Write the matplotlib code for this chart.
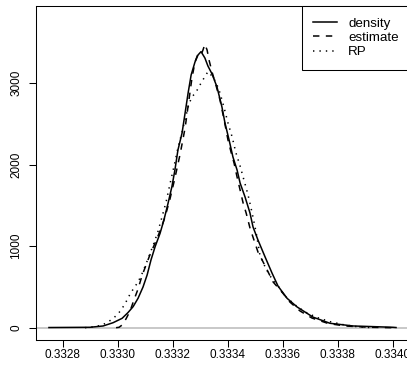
import matplotlib

matplotlib.use("Agg")
import matplotlib.pyplot as plt

plt.rcParams["font.family"] = ["Liberation Sans", "DejaVu Sans"]

# values
density_x = [0.332750, 0.332899, 0.332947, 0.332983, 0.333016, 0.333037, 0.333056,
             0.333074, 0.333092, 0.333107, 0.333121, 0.333136, 0.333154, 0.333168,
             0.333183, 0.333197, 0.333208, 0.333219, 0.333234, 0.333245, 0.333256,
             0.333267, 0.333281, 0.333292, 0.333303, 0.333317, 0.333328, 0.333343,
             0.333361, 0.333379, 0.333390, 0.333405, 0.333419, 0.333434, 0.333445,
             0.333463, 0.333481, 0.333492, 0.333510, 0.333536, 0.333561, 0.333583,
             0.333616, 0.333652, 0.333710, 0.333772, 0.333856, 0.334001, 0.334012]
density_y = [2, 5, 21, 61, 115, 184, 258, 361, 499, 647, 831, 994, 1158, 1321,
             1526, 1730, 1935, 2180, 2389, 2634, 2880, 3101, 3260, 3346, 3387,
             3309, 3211, 3113, 2953, 2708, 2512, 2303, 2094, 1935, 1775, 1604,
             1407, 1236, 1076, 867, 671, 510, 360, 255, 130, 54, 21, 5, 2]

estimate_x = [0.332994, 0.333005, 0.333016, 0.333030, 0.333045, 0.333059, 0.333074,
              0.333088, 0.333103, 0.333117, 0.333136, 0.333154, 0.333172, 0.333190,
              0.333208, 0.333227, 0.333245, 0.333259, 0.333270, 0.333281, 0.333292,
              0.333303, 0.333310, 0.333317, 0.333325, 0.333332, 0.333343, 0.333357,
              0.333372, 0.333387, 0.333401, 0.333412, 0.333423, 0.333434, 0.333445,
              0.333456, 0.333467, 0.333481, 0.333499, 0.333510, 0.333525, 0.333547,
              0.333565, 0.333597, 0.333626, 0.333663, 0.333706, 0.333765, 0.333826,
              0.333917, 0.333997]
estimate_y = [0, 5, 33, 107, 205, 340, 475, 634, 769, 892, 1039, 1187, 1358, 1579,
              1837, 2131, 2450, 2794, 3064, 3260, 3358, 3346, 3407, 3477, 3407, 3285,
              3137, 2978, 2794, 2549, 2303, 2156, 2021, 1849, 1690, 1530, 1407, 1223,
              1039, 929, 831, 683, 561, 438, 315, 205, 119, 52, 21, 5, 0]

rp_x = [0.332881, 0.332907, 0.332928, 0.332947, 0.332965, 0.332983, 0.333001,
        0.333016, 0.333030, 0.333045, 0.333059, 0.333074, 0.333088, 0.333103,
        0.333117, 0.333132, 0.333147, 0.333161, 0.333176, 0.333190, 0.333205,
        0.333219, 0.333234, 0.333248, 0.333259, 0.333270, 0.333285, 0.333299,
        0.333314, 0.333328, 0.333343, 0.333357, 0.333372, 0.333387, 0.333401,
        0.333416, 0.333430, 0.333445, 0.333459, 0.333474, 0.333488, 0.333503,
        0.333517, 0.333536, 0.333554, 0.333583, 0.333608, 0.333645, 0.333681,
        0.333725, 0.333772, 0.333826, 0.333874, 0.333925]
rp_y = [0, 9, 21, 39, 70, 113, 168, 236, 315, 413, 487, 561, 659, 782, 905, 1039,
        1187, 1358, 1543, 1763, 1984, 2205, 2401, 2598, 2745, 2831, 2892, 2978, 3064,
        3141, 3088, 3015, 2880, 2696, 2512, 2340, 2144, 1984, 1812, 1628, 1420, 1174,
        892, 745, 634, 512, 389, 279, 193, 125, 74, 33, 11, 0]

x_ticks = [0.3328, 0.3330, 0.3332, 0.3334, 0.3336, 0.3338, 0.3340]
y_ticks = [0, 1000, 2000, 3000]

fig = plt.figure(figsize=(4.07, 3.69), dpi=100)
ax = fig.add_axes([36 / 407, 29 / 369, 374 / 407, 334 / 369])

ax.axhline(0, color="#c8c8c8", lw=1.4, zorder=1)
ax.plot(density_x, density_y, color="black", lw=1.1, label="density", zorder=3)
ax.plot(estimate_x, estimate_y, color="black", lw=1.1, ls=(0, (4.2, 4.2)),
        label="estimate", zorder=3)
ax.plot(rp_x, rp_y, color="black", lw=1.1, ls=(0, (0.9, 3.3)), label="RP", zorder=3)

ax.set_xlim(0.3327029, 0.3340628)
ax.set_ylim(-151, 3947)
ax.set_xticks(x_ticks)
ax.set_xticklabels([f"{v:.4f}" for v in x_ticks])
ax.set_yticks(y_ticks)
ax.set_yticklabels([str(v) for v in y_ticks], rotation=90, va="center")
ax.tick_params(axis="x", length=5, width=0.75, pad=1.5, labelsize=8.5)
ax.tick_params(axis="y", length=5, width=0.75, pad=5, labelsize=8.5)
for s in ax.spines.values():
    s.set_linewidth(0.75)

leg = ax.legend(loc="upper right", bbox_to_anchor=(1, 1), borderaxespad=0,
                fancybox=False, edgecolor="black", framealpha=1, fontsize=9.6,
                handlelength=1.8, handletextpad=0.8, labelspacing=0.15,
                borderpad=0.85)
leg.get_frame().set_linewidth(0.75)

fig.savefig("out.png", dpi=100)
